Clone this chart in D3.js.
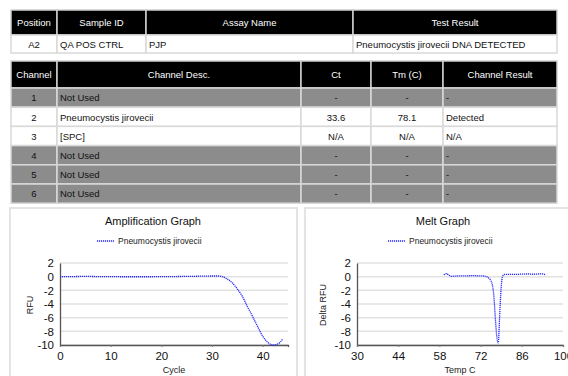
<!DOCTYPE html>
<html>
<head>
<meta charset="utf-8">
<title>Test Report</title>
<script src="https://cdn.jsdelivr.net/npm/d3@7"></script>
<style>
  body { margin: 0; background: #fff; }
  svg { display: block; font-family: "Liberation Sans", Arial, sans-serif; }
</style>
</head>
<body>
<div id="mainDiv"></div>
<script>
// ---- data ----
var sampleHeaders = ["Position", "Sample ID", "Assay Name", "Test Result"];
var sampleRow = ["A2", "QA POS CTRL", "PJP", "Pneumocystis jirovecii DNA DETECTED"];

var channelHeaders = ["Channel", "Channel Desc.", "Ct", "Tm (C)", "Channel Result"];
var channelRows = [
  ["1", "Not Used", "-", "-", "-"],
  ["2", "Pneumocystis jirovecii", "33.6", "78.1", "Detected"],
  ["3", "[SPC]", "N/A", "N/A", "N/A"],
  ["4", "Not Used", "-", "-", "-"],
  ["5", "Not Used", "-", "-", "-"],
  ["6", "Not Used", "-", "-", "-"]
];
var channelUsed = [false, true, true, false, false, false];

var seriesName = "Pneumocystis jirovecii";

var ampCycles = [0, 1, 2, 3, 4, 5, 6, 7, 8, 9, 10, 11, 12, 13, 14, 15, 16, 17, 18, 19, 20, 21,
  22, 23, 24, 25, 26, 27, 28, 29, 30, 31, 32, 33, 34, 35, 36, 37, 38, 39, 40, 41, 42, 43, 44];
var ampRFU = [0.0, 0.0, 0.01, 0.02, 0.03, 0.03, 0.03, 0.02, 0.02, 0.01, 0.0, 0.0, -0.01, -0.01, -0.01,
  -0.01, -0.01, -0.01, -0.01, 0.0, 0.0, 0.0, 0.01, 0.02, 0.03, 0.04, 0.05, 0.06, 0.07, 0.08, 0.1,
  0.1, 0.02, -0.35, -0.9, -1.8, -2.9, -4.4, -5.8, -7.3, -8.7, -9.6, -10.0, -9.85, -9.1];

var meltTemp = [59.5, 60, 60.5, 61, 61.5, 62, 63, 64, 65, 66, 67, 68, 69, 70, 71, 72, 73, 74, 75,
  75.5, 76, 76.5, 77, 77.5, 78, 78.5, 79, 79.5, 80, 81, 82, 83, 84, 85, 86, 87, 88, 89, 90, 91, 92, 93, 94];
var meltDelta = [0.25, 0.4, 0.45, 0.3, 0.15, 0.05, 0.08, 0.1, 0.12, 0.12, 0.13, 0.13, 0.14, 0.14,
  0.13, 0.12, 0.1, 0.0, -0.3, -0.6, -1.2, -2.8, -6.0, -8.8, -9.7, -5.5, -1.5, 0.1, 0.3, 0.35, 0.35,
  0.35, 0.35, 0.35, 0.38, 0.38, 0.4, 0.38, 0.35, 0.38, 0.4, 0.4, 0.3];

var yTicks = [2, 0, -2, -4, -6, -8, -10];
var ampXTicks = [0, 10, 20, 30, 40];
var meltXTicks = [30, 44, 58, 72, 86, 100];

// ---- drawing ----
var W = 568, H = 376;
var svg = d3.select("#mainDiv").append("svg").attr("width", W).attr("height", H);

function drawTable(headers, rows, colEdges, top, headH, rowH, aligns, rowFill) {
  var g = svg.append("g");
  var x = d3.scaleOrdinal().domain(d3.range(headers.length)).range(colEdges);
  var y = d3.scaleBand().domain(d3.range(rows.length)).range([top + headH, top + headH + rowH * rows.length]);

  function cellText(sel, d, i, yc, align, color) {
    var x0 = colEdges[i], x1 = colEdges[i + 1];
    var tx = align === "middle" ? (x0 + x1) / 2 : x0 + 3;
    sel.append("text").attr("x", tx).attr("y", yc).attr("dy", "0.35em")
      .attr("text-anchor", align).attr("font-size", 9.5).attr("fill", color).text(d);
  }

  var head = g.append("g");
  headers.forEach(function (h, i) {
    head.append("rect").attr("x", x(i)).attr("y", top)
      .attr("width", colEdges[i + 1] - colEdges[i]).attr("height", headH)
      .attr("fill", "#000").attr("stroke", "#cfcfcf").attr("stroke-width", 1.5);
    cellText(head, h, i, top + headH / 2, "middle", "#fff");
  });

  rows.forEach(function (r, ri) {
    var rg = g.append("g");
    r.forEach(function (c, i) {
      rg.append("rect").attr("x", x(i)).attr("y", y(ri))
        .attr("width", colEdges[i + 1] - colEdges[i]).attr("height", y.bandwidth())
        .attr("fill", rowFill(ri)).attr("stroke", "#d9d9d9").attr("stroke-width", 1.5);
      cellText(rg, c, i, y(ri) + y.bandwidth() / 2 + 0.5, aligns[i], "#111");
    });
  });
}

drawTable(sampleHeaders, [sampleRow], [11, 57, 146, 353, 557], 10, 25, 18,
  ["middle", "start", "start", "start"],
  function () { return "#fff"; });

drawTable(channelHeaders, channelRows, [11, 57, 301, 371, 443, 557], 61, 27, 19.2,
  ["middle", "start", "middle", "middle", "start"],
  function (i) { return channelUsed[i] ? "#fff" : "#8c8c8c"; });

function drawChart(opt) {
  var g = svg.append("g");
  g.append("rect").attr("x", opt.box[0]).attr("y", 208).attr("width", opt.box[1] - opt.box[0])
    .attr("height", 200).attr("fill", "#fff").attr("stroke", "#e4e4e4").attr("stroke-width", 2);

  var x = d3.scaleLinear().domain(opt.xDomain).range(opt.xRange);
  var y = d3.scaleLinear().domain([-10, 2]).range([345, 263]);

  g.append("text").attr("x", opt.titleX).attr("y", 225).attr("text-anchor", "middle")
    .attr("font-size", 11).attr("fill", "#111").text(opt.title);

  // legend
  g.append("line").attr("x1", opt.legendX).attr("x2", opt.legendX + 17).attr("y1", 241).attr("y2", 241)
    .attr("stroke", "#2626ff").attr("stroke-width", 1.3).attr("stroke-dasharray", "1.2,0.8");
  g.append("text").attr("x", opt.legendX + 21).attr("y", 241).attr("dy", "0.35em")
    .attr("font-size", 8.5).attr("fill", "#222").text(seriesName);

  // gridlines
  g.append("g").selectAll("line").data(yTicks).join("line")
    .attr("x1", opt.xRange[0]).attr("x2", opt.xRange[1])
    .attr("y1", function (d) { return y(d); }).attr("y2", function (d) { return y(d); })
    .attr("stroke", "#e2e2e2").attr("stroke-width", 1.5);

  // axes (plain hyphen for negatives, like the source report)
  var fmt = function (d) { return String(d); };
  var yAxis = d3.axisLeft(y).tickValues(yTicks).tickFormat(fmt).tickSize(0).tickPadding(6);
  var ya = g.append("g").attr("transform", "translate(" + opt.xRange[0] + ",0)").call(yAxis);
  var xAxis = d3.axisBottom(x).tickValues(opt.xTicks).tickFormat(fmt).tickSize(2).tickPadding(5);
  var xa = g.append("g").attr("transform", "translate(0,345)").call(xAxis);
  [ya, xa].forEach(function (a) {
    a.select(".domain").attr("stroke", "#555").attr("stroke-width", 1.3);
    a.selectAll(".tick line").attr("stroke", "#777");
    a.selectAll(".tick text").attr("font-size", 11.5).attr("fill", "#111")
      .attr("font-family", "Liberation Sans, Arial, sans-serif");
  });

  g.append("text").attr("transform", "translate(" + opt.yLabelX + ",305) rotate(-90)")
    .attr("text-anchor", "middle").attr("dy", "0.35em").attr("font-size", 9).attr("fill", "#222")
    .text(opt.yLabel);
  g.append("text").attr("x", (opt.xRange[0] + opt.xRange[1]) / 2).attr("y", 370).attr("dy", "0.35em")
    .attr("text-anchor", "middle").attr("font-size", 9).attr("fill", "#222").text(opt.xLabel);

  var line = d3.line().curve(d3.curveMonotoneX)
    .x(function (d) { return x(d[0]); }).y(function (d) { return y(d[1]); });
  g.append("path").datum(d3.zip(opt.xs, opt.ys)).attr("d", line).attr("fill", "none")
    .attr("stroke", "#2626ff").attr("stroke-width", 1.3).attr("stroke-dasharray", "1.2,0.8");
}

drawChart({
  box: [10, 297], title: "Amplification Graph", titleX: 153, legendX: 97,
  xDomain: [0, 45], xRange: [60, 288], xTicks: ampXTicks,
  xs: ampCycles, ys: ampRFU, yLabel: "RFU", yLabelX: 30, xLabel: "Cycle"
});

drawChart({
  box: [305, 580], title: "Melt Graph", titleX: 443, legendX: 388,
  xDomain: [30, 100], xRange: [357, 563], xTicks: meltXTicks,
  xs: meltTemp, ys: meltDelta, yLabel: "Delta RFU", yLabelX: 323, xLabel: "Temp C"
});
</script>
</body>
</html>
